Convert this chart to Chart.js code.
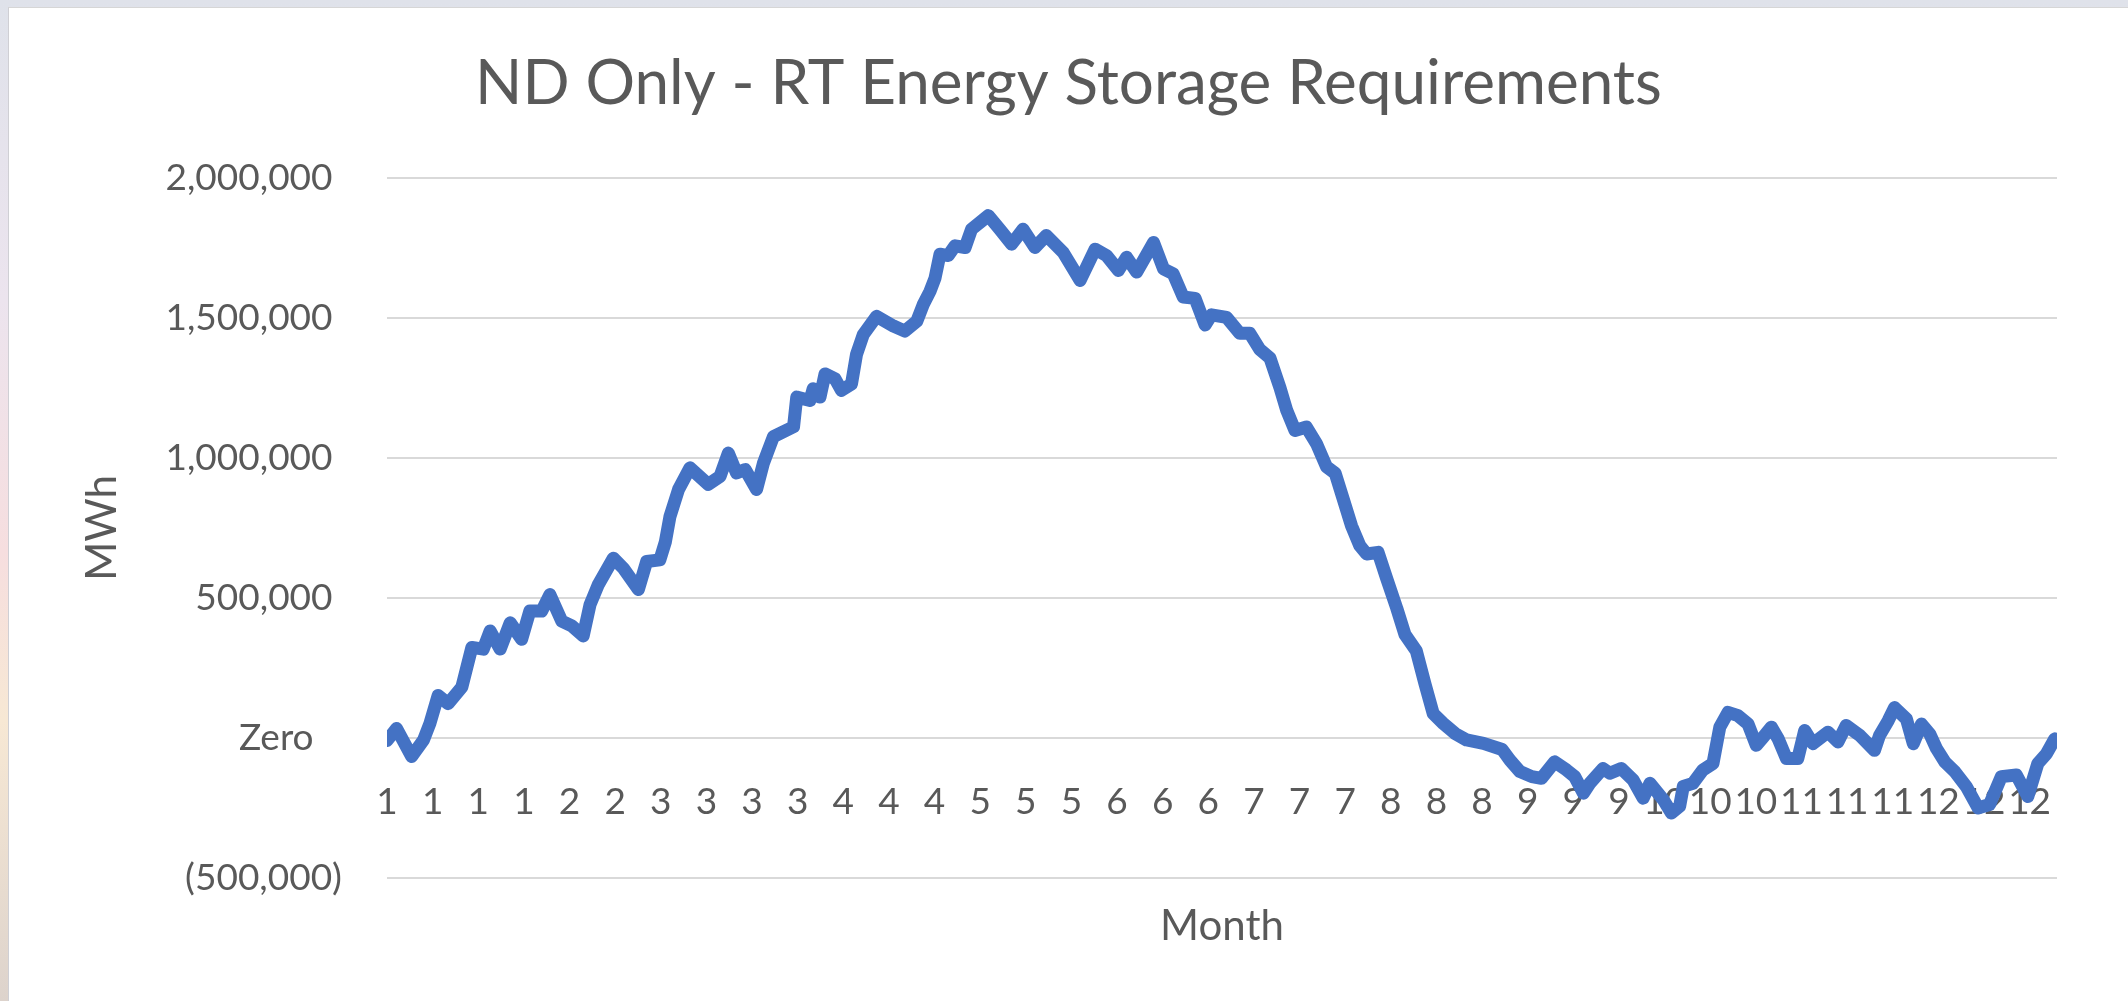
<!DOCTYPE html>
<html lang="en">
<head>
  <meta charset="UTF-8">
  <title>ND Only - RT Energy Storage Requirements</title>
  <script src="https://cdn.jsdelivr.net/npm/chart.js"></script>
  <style>
    html, body {
      margin: 0;
      padding: 0;
    }
    body {
      width: 2128px;
      height: 1001px;
      overflow: hidden;
      background: linear-gradient(to bottom, #dfe2ea 0%, #ece4ee 30%, #f6dedf 55%, #f7e8d4 72%, #ddd3cc 100%);
    }
    #frame {
      position: absolute;
      left: 8px;
      top: 7px;
      width: 2119px;
      height: 993px;
      background: white;
      border-left: 1px solid #cfcfd4;
      border-top: 1px solid #d6d6d6;
    }
    canvas {
      display: block;
    }
  </style>
</head>
<body>
  <div id="frame">
    <canvas id="stockage" width="2119" height="993"></canvas>
  </div>

  <script>
    // day of year (0 = Jan 1) and storage level
    const dayOfYear = [
      0, 2.1, 5.4, 8.0, 9.4, 11.2, 13.4, 16.4, 18.6, 21.1, 22.6, 24.8, 27.0, 29.5, 31.3, 33.9, 35.7,
      38.3, 40.5, 43.0, 44.5, 46.3, 49.6, 51.8, 55.1, 56.9, 59.8, 61.0, 62.0, 63.9, 66.4, 70.4, 73.0,
      74.8, 76.6, 78.5, 81.0, 82.5, 84.7, 89.1, 89.8, 92.7, 93.4, 94.9, 96.0, 98.2, 99.6, 101.8, 102.9,
      104.4, 107.3, 111.0, 113.5, 116.1, 117.5, 119.0, 120.1, 121.2, 123.0, 124.5, 126.7, 128.1, 131.8,
      134.3, 136.9, 139.4, 142.0, 144.5, 148.2, 151.9, 155.2, 157.7, 160.3, 162.1, 164.3, 168.0, 170.2,
      172.3, 174.5, 177.1, 179.3, 180.7, 184.0, 186.9, 189.1, 191.3, 193.5, 195.7, 197.2, 199.0, 201.5,
      203.7, 205.9, 207.8, 209.6, 211.4, 213.2, 214.7, 217.2, 219.1, 221.3, 223.1, 225.6, 227.5, 229.3,
      231.5, 234.1, 236.6, 240.3, 244.4, 246.1, 248.3, 250.9, 253.0, 255.9, 258.5, 260.3, 262.2, 263.6,
      266.5, 268.0, 270.5, 273.1, 275.3, 276.8, 279.7, 281.5, 283.3, 284.1, 286.2, 288.4, 290.6, 292.1,
      293.9, 296.1, 298.3, 300.1, 301.6, 303.4, 304.9, 306.7, 309.2, 310.7, 312.5, 315.8, 318.0, 319.8,
      322.8, 326.0, 327.1, 329.0, 330.4, 333.0, 334.5, 336.3, 338.1, 339.6, 341.4, 343.6, 346.1, 348.7,
      351.2, 353.8, 357.1, 359.6, 361.8, 363.7, 365.5
    ];
    const storageMWh = [
      -10000, 33000, -67000, -8000, 51000, 151000, 122000, 181000, 323000, 317000, 382000, 317000, 411000,
      352000, 453000, 453000, 512000, 417000, 400000, 364000, 476000, 547000, 642000, 606000, 530000,
      630000, 636000, 700000, 790000, 888000, 965000, 906000, 935000, 1018000, 947000, 959000, 888000,
      982000, 1077000, 1112000, 1218000, 1206000, 1248000, 1218000, 1301000, 1283000, 1242000, 1265000,
      1371000, 1442000, 1507000, 1472000, 1454000, 1489000, 1548000, 1596000, 1643000, 1729000, 1724000,
      1759000, 1753000, 1818000, 1867000, 1818000, 1765000, 1818000, 1753000, 1796000, 1735000, 1635000,
      1747000, 1724000, 1671000, 1718000, 1665000, 1771000, 1676000, 1659000, 1576000, 1571000, 1476000,
      1512000, 1503000, 1446000, 1446000, 1388000, 1358000, 1252000, 1170000, 1099000, 1111000, 1052000,
      969000, 946000, 852000, 757000, 687000, 657000, 663000, 569000, 463000, 369000, 310000, 192000,
      86000, 51000, 15000, -8000, -20000, -42000, -80000, -121000, -139000, -145000, -86000, -115000,
      -139000, -198000, -163000, -110000, -127000, -110000, -151000, -216000, -163000, -221000, -269000,
      -245000, -174000, -163000, -115000, -92000, 38000, 91000, 79000, 49000, -27000, 2000, 38000, -4000,
      -74000, -74000, 26000, -21000, 20000, -15000, 44000, 8000, -45000, 8000, 61000, 108000, 67000,
      -21000, 49000, 14000, -39000, -86000, -121000, -174000, -251000, -239000, -139000, -133000, -210000,
      -92000, -57000, -4000
    ];

    // month shown every 10 days along the axis
    const monthTickLabels = [
      "1", "1", "1", "1", "2", "2", "3", "3", "3", "3", "4", "4", "4", "5", "5", "5", "6", "6", "6",
      "7", "7", "7", "8", "8", "8", "9", "9", "9", "10", "10", "10", "11", "11", "11", "12", "12", "12"
    ];
    const yTickLabels = ["(500,000)", "Zero", "500,000", "1,000,000", "1,500,000", "2,000,000"];

    const couleurTexte = "#595959";
    const couleurGrille = "#d9d9d9";

    Chart.defaults.font.family = "Lato, 'Open Sans', sans-serif";

    const points = dayOfYear.map((d, i) => ({ x: d, y: storageMWh[i] }));

    const ctx = document.getElementById("stockage").getContext("2d");
    const chart = new Chart(ctx, {
      type: "line",
      data: {
        datasets: [{
          label: "MWh",
          data: points,
          borderColor: "#4472C4",
          backgroundColor: "#4472C4",
          borderWidth: 13,
          borderJoinStyle: "round",
          borderCapStyle: "round",
          pointRadius: 0,
          tension: 0,
          fill: false
        }]
      },
      options: {
        responsive: false,
        animation: false,
        devicePixelRatio: 1,
        layout: {
          padding: { left: 0, right: 0, top: 0, bottom: 49 }
        },
        plugins: {
          legend: { display: false },
          tooltip: { enabled: false },
          title: {
            display: true,
            text: "ND Only - RT Energy Storage Requirements",
            color: couleurTexte,
            font: { size: 62, weight: "normal" },
            padding: { top: 39, bottom: 57 }
          }
        },
        scales: {
          x: {
            type: "linear",
            min: 0,
            max: 366,
            position: { y: 0 },
            grid: { display: false },
            border: { display: false },
            afterBuildTicks: (s) => {
              s.ticks = monthTickLabels.map((_, i) => ({ value: i * 10 }));
            },
            afterFit: (s) => { s.height = 0; },
            ticks: {
              autoSkip: false,
              minRotation: 0,
              maxRotation: 0,
              padding: 34,
              color: couleurTexte,
              font: { size: 37 },
              callback: (v, i) => monthTickLabels[i]
            }
          },
          x2: {
            type: "linear",
            axis: "x",
            position: "bottom",
            grid: { display: false },
            border: { display: false },
            ticks: { display: false },
            title: {
              display: true,
              text: "Month",
              color: couleurTexte,
              font: { size: 42 },
              padding: { top: 16, bottom: 0 }
            }
          },
          y: {
            min: -500000,
            max: 2000000,
            afterFit: (s) => { s.width = 378; },
            grid: { color: couleurGrille, lineWidth: 2, drawTicks: false },
            border: { display: false },
            ticks: {
              stepSize: 500000,
              padding: 45,
              color: couleurTexte,
              font: { size: 37 },
              callback: (v, i) => {
                const t = yTickLabels[i];
                if (v === 0) return t + "   ";
                if (v > 0) return t + " ";
                return t;
              }
            },
            title: {
              display: true,
              text: "MWh",
              color: couleurTexte,
              font: { size: 42 },
              padding: { top: 68, bottom: 0 }
            }
          },
          // empty right axis, only keeps the margin on the right of the plot
          yDroite: {
            type: "linear",
            axis: "y",
            position: "right",
            grid: { display: false },
            border: { display: false },
            ticks: { display: false },
            afterFit: (s) => { s.width = 71; }
          }
        }
      }
    });
  </script>
</body>
</html>
